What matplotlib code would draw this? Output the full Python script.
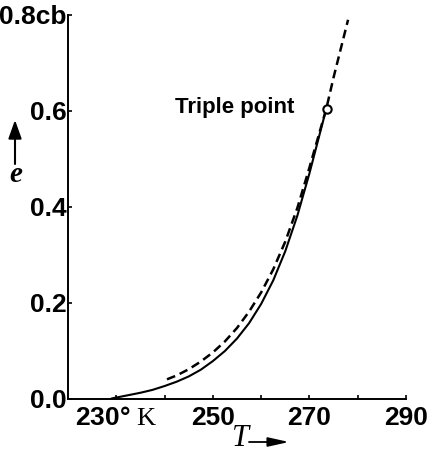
import matplotlib
matplotlib.use("Agg")
import matplotlib.pyplot as plt

plt.rcParams["mathtext.fontset"] = "custom"
plt.rcParams["mathtext.rm"] = "Liberation Serif"
plt.rcParams["mathtext.it"] = "Liberation Serif:italic"

# saturation vapour pressure (cb)
ice_T = [229, 230, 232.5, 235, 237.5, 240, 242.5, 245, 247.5, 250, 252.5,
         255, 257.5, 260, 262.5, 265, 267.5, 270, 273.5]
ice_e = [0.001, 0.003, 0.008, 0.013, 0.019, 0.027, 0.036, 0.047, 0.061, 0.079,
         0.100, 0.126, 0.158, 0.198, 0.247, 0.308, 0.382, 0.470, 0.605]

water_T = [240.5, 242.5, 245, 247.5, 250, 252.5, 255, 257.5, 260, 262.5, 265,
           267.5, 270, 273.5, 275, 276.5, 278]
water_e = [0.041, 0.049, 0.062, 0.078, 0.097, 0.120, 0.148, 0.182, 0.222, 0.270,
           0.328, 0.398, 0.482, 0.605, 0.67, 0.73, 0.79]

triple_T = [273.6]
triple_e = [0.605]

x_major = [230, 250, 270, 290]
x_labels = ["230° $\\mathrm{K}$", "250", "270", "290"]
x_minor = [240, 260, 280]
y_ticks = [0.0, 0.2, 0.4, 0.6, 0.8]
y_labels = ["0.0", "0.2", "0.4", "0.6", "0.8cb"]

W, H = 430, 454
fig = plt.figure(figsize=(W / 100, H / 100), dpi=100)
ax = fig.add_axes([68 / W, 55 / H, (406 - 68) / W, (399 - 15) / H])

ax.plot(ice_T, ice_e, color="black", lw=1.5, solid_capstyle="round")
ax.plot(water_T, water_e, color="black", lw=1.8, dashes=(3.5, 2))
ax.plot(triple_T, triple_e, "o", ms=6, mfc="white", mec="black", mew=1.5, zorder=5)

ax.set_xlim(220, 290)
ax.set_ylim(0, 0.8)
for side in ("top", "right"):
    ax.spines[side].set_visible(False)
for side in ("left", "bottom"):
    ax.spines[side].set_linewidth(1.4)

ax.set_xticks(x_major)
ax.set_xticklabels(x_labels, family="Liberation Sans", fontweight="bold", fontsize=19)
ax.set_xticks(x_minor, minor=True)
ax.set_yticks(y_ticks)
ax.set_yticklabels(y_labels, family="Liberation Sans", fontweight="bold", fontsize=19)
ax.tick_params(which="both", direction="in", length=3, width=1.2)
ax.tick_params(axis="x", pad=5)
ax.tick_params(axis="y", pad=1)

fig.text(175 / W, 1 - 108 / H, "Triple point", family="Liberation Sans",
         fontweight="bold", fontsize=16, ha="left", va="center")

# axis names with arrows
fig.text(16 / W, 1 - 174 / H, "e", family="Liberation Serif", style="italic",
         fontweight="bold", fontsize=21, ha="center", va="center")
ax.annotate("", xy=(15, H - 120), xytext=(15, H - 164), xycoords="figure pixels",
            textcoords="figure pixels",
            arrowprops=dict(arrowstyle="-|>,head_width=0.25,head_length=0.7",
                            lw=1.5, color="black", mutation_scale=16,
                            shrinkA=0, shrinkB=0))
fig.text(240 / W, 1 - 439 / H, "T", family="Liberation Serif", style="italic",
         fontsize=22, ha="center", va="center")
ax.annotate("", xy=(289, H - 442), xytext=(249, H - 442), xycoords="figure pixels",
            textcoords="figure pixels",
            arrowprops=dict(arrowstyle="-|>,head_width=0.2,head_length=0.9",
                            lw=1.3, color="black", mutation_scale=14,
                            shrinkA=0, shrinkB=0))

fig.savefig("out.png", dpi=100)
